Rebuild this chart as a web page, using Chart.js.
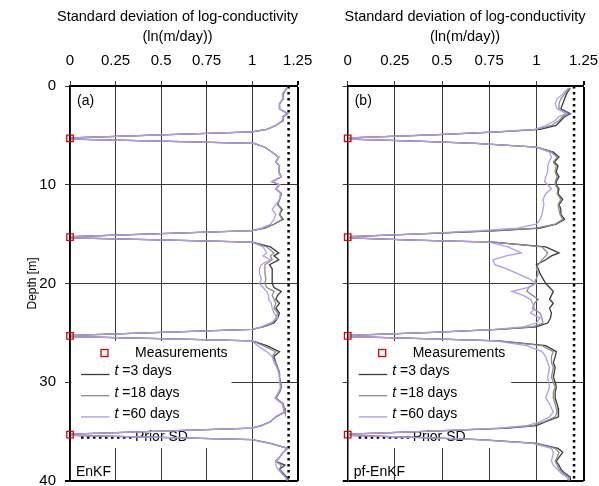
<!DOCTYPE html>
<html>
<head>
<meta charset="utf-8">
<script src="https://cdn.jsdelivr.net/npm/chart.js@4.4.1/dist/chart.umd.min.js"></script>
<style>
  html, body { margin: 0; padding: 0; background: #fff; }
  #wrap { position: relative; width: 599px; height: 486px; overflow: hidden; }
  canvas { position: absolute; top: 0; }
  #chartA { left: 0; }
  #chartB { left: 300px; }
</style>
</head>
<body>
<div id="wrap">
  <canvas id="chartA" width="330" height="486"></canvas>
  <canvas id="chartB" width="299" height="486"></canvas>
</div>
<script>
const FONT = "Arial, 'Liberation Sans', sans-serif";

// depth nodes (m) shared by every profile
const depths = [
  0.2, 0.8, 1.3, 1.8, 2.3, 2.8, 3.1, 3.5, 4.0, 4.4,
  4.65, 4.95, 5.25, 5.38, 5.6, 5.8,
  6.2, 6.7, 7.2, 7.7, 8.1, 8.7, 9.2, 9.7, 10.0, 10.4, 10.9, 11.5, 12.0, 12.5, 13.0, 13.5, 14.0, 14.4,
  14.65, 14.95, 15.25, 15.38, 15.6, 15.8,
  16.3, 16.9, 17.2, 17.6, 18.1, 18.5, 19.0, 19.5, 20.0, 20.4, 20.8, 21.2, 21.6, 22.0, 22.5, 23.0, 23.5, 24.0, 24.4,
  24.65, 24.95, 25.25, 25.38, 25.6, 25.8,
  26.3, 26.9, 27.4, 28.0, 28.5, 29.0, 29.5, 30.0, 30.5, 31.0, 31.6, 32.2, 32.6, 33.0, 33.5, 34.0, 34.4,
  34.65, 34.95, 35.25, 35.38, 35.6, 35.8,
  36.2, 36.7, 37.1, 37.6, 38.0, 38.4, 38.8, 39.2, 39.6, 39.95
];

// (a) EnKF
const enkf3 = [
  1.19, 1.17, 1.17, 1.15, 1.15, 1.195, 1.17, 1.17, 1.13, 1.08,
  1.0, 0.5, 0.01, 0.01, 0.55, 1.01,
  1.07, 1.11, 1.146, 1.13, 1.15, 1.146, 1.16, 1.11, 1.15, 1.13, 1.16, 1.15, 1.14, 1.165, 1.15, 1.17, 1.12, 1.07,
  1.0, 0.5, 0.01, 0.01, 0.55, 1.0,
  1.10, 1.146, 1.12, 1.146, 1.095, 1.11, 1.11, 1.11, 1.11, 1.12, 1.16, 1.14, 1.13, 1.15, 1.13, 1.15, 1.14, 1.12, 1.06,
  1.0, 0.5, 0.01, 0.01, 0.55, 1.0,
  1.08, 1.15, 1.12, 1.13, 1.14, 1.15, 1.15, 1.155, 1.16, 1.15, 1.13, 1.17, 1.175, 1.18, 1.13, 1.1, 1.05,
  1.0, 0.5, 0.01, 0.01, 0.55, 1.0,
  1.1, 1.195, 1.17, 1.15, 1.13, 1.18, 1.15, 1.17, 1.19, 1.2
];
const enkf18 = [
  1.19, 1.17, 1.17, 1.15, 1.15, 1.195, 1.17, 1.17, 1.13, 1.08,
  1.0, 0.5, 0.01, 0.01, 0.55, 1.01,
  1.07, 1.11, 1.146, 1.13, 1.15, 1.146, 1.16, 1.11, 1.15, 1.13, 1.16, 1.15, 1.14, 1.16, 1.15, 1.165, 1.12, 1.065,
  1.0, 0.5, 0.01, 0.01, 0.55, 1.0,
  1.08, 1.12, 1.10, 1.11, 1.07, 1.07, 1.07, 1.075, 1.07, 1.08, 1.12, 1.11, 1.12, 1.13, 1.12, 1.14, 1.13, 1.11, 1.055,
  1.0, 0.5, 0.01, 0.01, 0.55, 1.0,
  1.06, 1.13, 1.11, 1.13, 1.14, 1.15, 1.15, 1.155, 1.16, 1.15, 1.13, 1.17, 1.175, 1.18, 1.13, 1.1, 1.05,
  1.0, 0.5, 0.01, 0.01, 0.55, 1.0,
  1.1, 1.195, 1.17, 1.15, 1.13, 1.16, 1.15, 1.165, 1.185, 1.195
];
const enkf60 = [
  1.19, 1.165, 1.17, 1.15, 1.15, 1.19, 1.17, 1.165, 1.13, 1.08,
  1.0, 0.5, 0.01, 0.01, 0.55, 1.01,
  1.07, 1.11, 1.146, 1.13, 1.15, 1.146, 1.16, 1.11, 1.15, 1.13, 1.155, 1.15, 1.13, 1.11, 1.13, 1.12, 1.1, 1.05,
  1.0, 0.5, 0.01, 0.01, 0.55, 1.0,
  1.06, 1.08, 1.06, 1.10, 1.05, 1.04, 1.04, 1.05, 1.04, 1.06, 1.08, 1.09, 1.09, 1.105, 1.11, 1.12, 1.14, 1.10, 1.05,
  1.0, 0.5, 0.01, 0.01, 0.55, 1.0,
  1.03, 1.08, 1.11, 1.12, 1.135, 1.145, 1.15, 1.15, 1.155, 1.145, 1.125, 1.165, 1.17, 1.175, 1.13, 1.1, 1.05,
  1.0, 0.5, 0.01, 0.01, 0.55, 1.0,
  1.1, 1.19, 1.17, 1.15, 1.13, 1.13, 1.14, 1.16, 1.18, 1.19
];

// (b) pf-EnKF
const pf3 = [
  1.18, 1.16, 1.15, 1.14, 1.13, 1.18, 1.15, 1.13, 1.105, 1.02,
  0.8, 0.45, 0.01, 0.01, 0.4, 0.68,
  1.0, 1.09, 1.12, 1.095, 1.115, 1.105, 1.12, 1.105, 1.105, 1.12, 1.115, 1.14, 1.12, 1.13, 1.13, 1.15, 1.105, 1.02,
  0.8, 0.42, 0.01, 0.01, 0.35, 0.77,
  1.05, 1.12, 1.08, 1.05, 1.0, 1.01, 1.02, 1.035, 1.05, 1.07, 1.09, 1.08, 1.07, 1.09, 1.07, 1.08, 1.075, 1.06, 1.0,
  0.8, 0.45, 0.01, 0.01, 0.45, 0.8,
  1.05, 1.106, 1.1, 1.09, 1.1, 1.095, 1.09, 1.1, 1.106, 1.1, 1.1, 1.11, 1.115, 1.12, 1.115, 1.05, 1.0,
  0.85, 0.45, 0.01, 0.01, 0.4, 0.7,
  1.0, 1.115, 1.14, 1.12, 1.106, 1.12, 1.13, 1.15, 1.18, 1.18
];
const pf18 = [
  1.175, 1.15, 1.13, 1.12, 1.12, 1.17, 1.14, 1.12, 1.08, 1.0,
  0.8, 0.45, 0.01, 0.01, 0.4, 0.68,
  1.0, 1.08, 1.11, 1.09, 1.105, 1.1, 1.11, 1.1, 1.1, 1.115, 1.11, 1.13, 1.115, 1.12, 1.125, 1.14, 1.1, 1.0,
  0.78, 0.42, 0.01, 0.01, 0.35, 0.77,
  1.03, 1.06, 1.05, 1.03, 1.01, 1.0, 1.01, 1.0, 0.99, 0.96, 0.95, 0.98, 1.01, 0.99, 0.98, 1.02, 1.03, 1.035, 0.98,
  0.8, 0.45, 0.01, 0.01, 0.45, 0.8,
  1.03, 1.09, 1.08, 1.08, 1.09, 1.085, 1.08, 1.09, 1.1, 1.09, 1.09, 1.1, 1.105, 1.11, 1.1, 1.04, 0.98,
  0.83, 0.45, 0.01, 0.01, 0.4, 0.7,
  1.0, 1.1, 1.12, 1.11, 1.1, 1.11, 1.12, 1.14, 1.17, 1.175
];
const pf60 = [
  1.17, 1.14, 1.11, 1.10, 1.11, 1.16, 1.12, 1.10, 1.05, 0.99,
  0.78, 0.45, 0.01, 0.01, 0.4, 0.68,
  1.0, 1.07, 1.08, 1.067, 1.06, 1.06, 1.05, 1.044, 1.06, 1.08, 1.05, 1.035, 1.04, 1.035, 1.03, 1.02, 1.0, 0.9,
  0.7, 0.4, 0.01, 0.01, 0.35, 0.75,
  0.85, 0.92, 0.84, 0.77, 0.78, 0.84, 0.9, 0.96, 1.0, 0.96, 0.87, 0.93, 0.97, 0.98, 0.99, 0.97, 1.02, 1.0, 0.93,
  0.78, 0.45, 0.01, 0.01, 0.45, 0.78,
  0.95, 1.03, 1.05, 1.06, 1.07, 1.065, 1.06, 1.065, 1.07, 1.06, 1.05, 1.07, 1.08, 1.09, 1.07, 1.02, 0.95,
  0.8, 0.43, 0.01, 0.01, 0.4, 0.68,
  0.98, 1.08, 1.09, 1.085, 1.08, 1.09, 1.11, 1.13, 1.16, 1.17
];

const measDepths = [5.3, 15.3, 25.3, 35.3];
const priorSD = 1.2;
const xTicks = [0, 0.25, 0.5, 0.75, 1, 1.25];
const yTicks = [0, 10, 20, 30, 40];
const seriesLabels = [' =3 days', ' =18 days', ' =60 days'];
const colors = ['#3a3a3a', '#8c8c8c', '#b497f0'];
const xTitle = ['Standard deviation of log-conductivity', '(ln(m/day))'];

function profile(vals) {
  return depths.map((d, i) => ({ x: vals[i], y: d }));
}

// legend box, panel tag, method name and the two-line axis title
const panelDecor = {
  id: 'panelDecor',
  beforeDatasetsDraw(chart, args, o) {
    const { ctx, chartArea: a } = chart;
    const L = a.left, T = a.top;
    ctx.save();
    ctx.fillStyle = '#fff';
    ctx.fillRect(L + 1.5, T + 255, o.boxW, 107);

    ctx.fillStyle = '#000';
    ctx.textBaseline = 'middle';
    ctx.textAlign = 'left';
    ctx.font = `14px ${FONT}`;
    ctx.fillText(o.tag, L + 7, T + 15);
    ctx.fillText(o.method, L + 6, T + 386);

    ctx.strokeStyle = '#e00000';
    ctx.lineWidth = 1.3;
    ctx.strokeRect(L + 31, T + 263.5, 7, 7);
    ctx.fillText('Measurements', L + 65, T + 267);

    seriesLabels.forEach((lab, i) => {
      const ly = T + 288.5 + i * 21.2;
      ctx.strokeStyle = colors[i];
      ctx.lineWidth = 1.3;
      ctx.beginPath();
      ctx.moveTo(L + 11, ly);
      ctx.lineTo(L + 39.5, ly);
      ctx.stroke();
      ctx.font = `italic 14px ${FONT}`;
      ctx.fillText('t', L + 44.5, ly - 3);
      const w = ctx.measureText('t').width;
      ctx.font = `14px ${FONT}`;
      ctx.fillText(lab, L + 44.5 + w, ly - 3);
    });

    ctx.strokeStyle = '#000';
    ctx.lineWidth = 2.5;
    ctx.setLineDash([2.5, 3.5]);
    ctx.beginPath();
    ctx.moveTo(L + 11, T + 351.5);
    ctx.lineTo(L + 62, T + 351.5);
    ctx.stroke();
    ctx.setLineDash([]);
    ctx.fillText('Prior SD', L + 65, T + 351);

    ctx.textAlign = 'center';
    ctx.font = `14.5px ${FONT}`;
    ctx.fillText(xTitle[0], o.titleX, 16.5);
    ctx.fillText(xTitle[1], o.titleX, 37);
    ctx.restore();
  }
};

function makePanel(id, vals, opts) {
  const lineSet = (i, order) => ({
    data: profile(vals[i]),
    showLine: true,
    borderColor: colors[i],
    borderWidth: 1.3,
    pointRadius: 0,
    order
  });
  return new Chart(document.getElementById(id), {
    type: 'scatter',
    data: {
      datasets: [
        {
          data: measDepths.map(d => ({ x: 0, y: d })),
          pointStyle: 'rect',
          pointRadius: 4.6,
          borderColor: '#e00000',
          borderWidth: 1.3,
          backgroundColor: 'rgba(0,0,0,0)',
          clip: false,
          order: 0
        },
        lineSet(2, 1),
        lineSet(1, 2),
        lineSet(0, 3),
        {
          data: [{ x: priorSD, y: 0 }, { x: priorSD, y: 40 }],
          showLine: true,
          borderColor: '#000',
          borderWidth: 2.5,
          borderDash: [2.5, 3.5],
          pointRadius: 0,
          order: 4
        }
      ]
    },
    options: {
      responsive: false,
      animation: false,
      layout: { autoPadding: false, padding: { left: 0, right: opts.padRight, top: 0, bottom: 5 } },
      plugins: {
        legend: { display: false },
        tooltip: { enabled: false },
        panelDecor: { tag: opts.tag, method: opts.method, boxW: opts.boxW, titleX: opts.titleX }
      },
      scales: {
        x: {
          type: 'linear',
          position: 'top',
          min: 0, max: 1.25,
          afterBuildTicks: s => { s.ticks = xTicks.map(v => ({ value: v })); },
          afterFit: s => { s.height = 86; s.paddingLeft = 0; s.paddingRight = 0; },
          ticks: {
            font: { size: 15, family: FONT }, color: '#000', padding: 11, maxRotation: 0,
            callback: v => String(v)
          },
          grid: {
            color: c => (c.tick && c.tick.value === 1.25 ? '#000' : '#3a3a3a'),
            lineWidth: c => (c.tick && c.tick.value === 1.25 ? 2 : 1),
            tickLength: 5
          },
          border: { color: '#000', width: 2 }
        },
        y: {
          type: 'linear',
          reverse: true,
          min: 0, max: 40,
          afterBuildTicks: s => { s.ticks = yTicks.map(v => ({ value: v })); },
          afterFit: s => { s.width = opts.yWidth; s.paddingTop = 0; s.paddingBottom = 0; },
          ticks: {
            display: opts.yLabels, font: { size: 15, family: FONT }, color: '#000', padding: 9,
            callback: v => String(v)
          },
          grid: {
            color: c => (c.tick && c.tick.value === 40 ? '#000' : '#3a3a3a'),
            lineWidth: c => (c.tick && c.tick.value === 40 ? 2 : 1),
            tickLength: 5
          },
          border: { color: '#000', width: 1.5 },
          title: {
            display: opts.yLabels, text: 'Depth [m]', color: '#000',
            font: { size: 12, family: FONT },
            padding: { top: 25, bottom: 0 }
          }
        }
      }
    },
    plugins: [panelDecor]
  });
}

makePanel('chartA', [enkf3, enkf18, enkf60],
  { tag: '(a)', method: 'EnKF', padRight: 32.3, yWidth: 70, yLabels: true, boxW: 160, titleX: 177.5 });
makePanel('chartB', [pf3, pf18, pf60],
  { tag: '(b)', method: 'pf-EnKF', padRight: 15.5, yWidth: 47.7, yLabels: false, boxW: 162, titleX: 165 });
</script>
</body>
</html>
